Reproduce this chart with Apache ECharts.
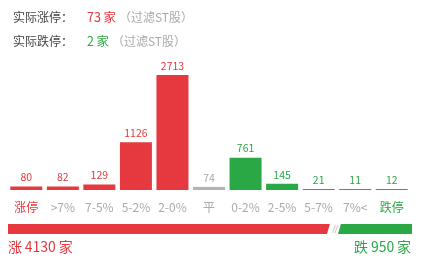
<!DOCTYPE html>
<html><head><meta charset="utf-8">
<script src="https://cdn.jsdelivr.net/npm/echarts@6/dist/echarts.min.js"></script>
<style>html,body{margin:0;padding:0;background:#fff}#c{width:423px;height:269px}</style>
</head><body><div id="c"></div>
<script>
const categories = ['涨停','>7%','7-5%','5-2%','2-0%','平','0-2%','2-5%','5-7%','7%<','跌停'];
const values = [80,82,129,1126,2713,74,761,145,21,11,12];
const limitUp = 73, limitDown = 2;
const upCount = 4130, downCount = 950;

const RED = '#e5383f', GREEN = '#2aa845', GREY = '#b3b3b3';
const FONT = 'Noto Sans CJK SC';
const flatIdx = categories.indexOf('平');
const colorOf = i => i < flatIdx ? RED : (i === flatIdx ? GREY : GREEN);
const SP = '\u2009';

const chart = echarts.init(document.getElementById('c'), null, {renderer:'canvas'});
const rs = (c, pl) => ({fontSize:12, color:c, fontFamily:FONT, fontWeight:'normal', lineHeight:24, padding:[0,0,0,pl||0]});
chart.setOption({
  animation:false,
  textStyle:{fontFamily:FONT},
  title:{
    left:13, top:5, padding:0, itemGap:0,
    text:'{a|实际涨停：}{r|'+limitUp+SP+'家}{s|（过滤ST股）}\n{a|实际跌停：}{g|'+limitDown+SP+'家}{s|（过滤ST股）}',
    textStyle:{fontFamily:FONT, fontWeight:'normal', lineHeight:24, rich:{
      a:rs('#444'), r:Object.assign(rs(RED,14),{fontSize:12.5}), g:Object.assign(rs(GREEN,14),{fontSize:12.5}), s:rs('#aaa',3)
    }}
  },
  grid:[
    {left:8, right:13, top:75, bottom:79},
    {left:8, width:396, top:224, height:10}
  ],
  xAxis:[
    {type:'category', gridIndex:0, data:categories,
     axisLine:{show:false}, axisTick:{show:false},
     axisLabel:{margin:11, fontSize:12, fontFamily:FONT, interval:0,
       color:(v,i)=> i===0 ? RED : (i===categories.length-1 ? GREEN : '#aaa')}},
    {type:'value', gridIndex:1, min:0, max:upCount+downCount, show:false}
  ],
  yAxis:[
    {type:'value', gridIndex:0, min:0, max:Math.max(...values), show:false, splitLine:{show:false}},
    {type:'category', gridIndex:1, data:['a'], show:false}
  ],
  series:[
    {type:'bar', xAxisIndex:0, yAxisIndex:0, barWidth:32, barMinHeight:1,
     data: values.map((v,i)=>({value:v, itemStyle:{color:colorOf(i)},
        label:{color: i===flatIdx ? '#aaa' : colorOf(i)}})),
     label:{show:true, position:'top', distance:4, fontSize:10.5, fontFamily:FONT}},
    {type:'custom', xAxisIndex:1, yAxisIndex:1, data:[[upCount, downCount]],
     renderItem:(params, api)=>{
       const cs = params.coordSys;
       const y0 = cs.y, h = cs.height;
       const xs = api.coord([0,0])[0];
       const xr = api.coord([api.value(0),0])[0];
       const xe = api.coord([api.value(0)+api.value(1),0])[0];
       const sk = 3, gap = 8;
       return {type:'group', children:[
         {type:'polygon', shape:{points:[[xs,y0],[xr,y0],[xr-sk,y0+h],[xs,y0+h]]}, style:{fill:RED}},
         {type:'polygon', shape:{points:[[xr+gap+sk,y0],[xe+gap,y0],[xe+gap,y0+h],[xr+gap,y0+h]]}, style:{fill:GREEN}},
         {type:'line', shape:{x1:xr+2.5+sk,y1:y0+1,x2:xr+2.5,y2:y0+h-1}, style:{stroke:'#c8c8c8',lineWidth:1}},
         {type:'line', shape:{x1:xr+5+sk,y1:y0+1,x2:xr+5,y2:y0+h-1}, style:{stroke:'#c8c8c8',lineWidth:1}},
         {type:'text', style:{text:'涨'+SP+api.value(0)+SP+'家', x:xs, y:y0+h+13, textAlign:'left', textVerticalAlign:'middle', fill:RED, fontSize:14, fontFamily:FONT}},
         {type:'text', style:{text:'跌'+SP+api.value(1)+SP+'家', x:xe+gap-1, y:y0+h+13, textAlign:'right', textVerticalAlign:'middle', fill:GREEN, fontSize:14, fontFamily:FONT}}
       ]};
     }}
  ]
});
</script></body></html>
